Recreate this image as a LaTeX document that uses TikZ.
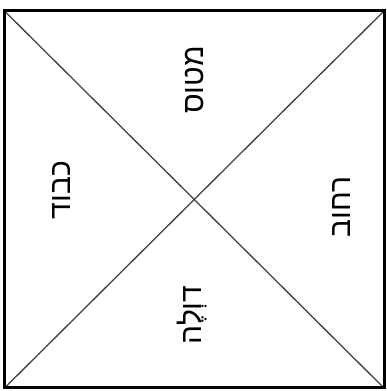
\documentclass[tikz,border=0pt]{standalone}
\usepackage{fontspec}
\newfontfamily\hebfont[Script=Hebrew]{Liberation Sans}
\TeXXeTstate=1
\begin{document}
\begin{tikzpicture}[x=1pt,y=1pt]
\tikzset{
  lab/.style={font=\hebfont\fontsize{30}{36}\selectfont, rotate=90, inner sep=0pt, text=black},
  frame/.style={draw=black, line width=3pt},
  diag/.style={draw=black!75, line width=1.3pt}
}
\useasboundingbox (0,0) rectangle (387,391);
\coordinate (tl) at (4.5,380);
\coordinate (tr) at (384,380);
\coordinate (bl) at (4.5,3);
\coordinate (br) at (384,3);
\draw[diag] (tl) -- (br);
\draw[diag] (tr) -- (bl);
\draw[frame] (tl) -- (tr) -- (br) -- (bl) -- cycle;
\node[lab] (top) at (195,311) {\beginR מטוס\endR};
\node[lab] (left) at (62,201) {\beginR כבוד\endR};
\node[lab] (right) at (342,184) {\beginR רחוב\endR};
\node[lab] (bottom) at (192,76) {\beginR דוְלֶה\endR};
\end{tikzpicture}
\end{document}
